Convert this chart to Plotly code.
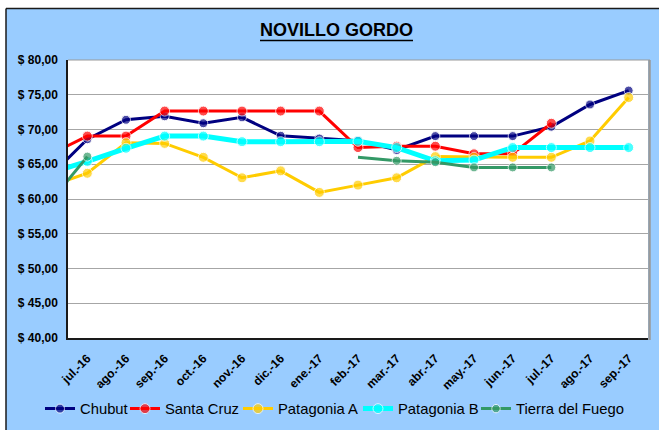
import plotly.graph_objects as go

# ---- data -------------------------------------------------------------
# first category (jun.-16) lies just outside the visible axis range; only
# the segment leading into jul.-16 is visible, as in the reference.
categories = ["jun.-16", "jul.-16", "ago.-16", "sep.-16", "oct.-16", "nov.-16", "dic.-16",
              "ene.-17", "feb.-17", "mar.-17", "abr.-17", "may.-17", "jun.-17",
              "jul.-17", "ago.-17", "sep.-17"]

chubut = [63.1, 68.6, 71.4, 71.9, 70.9, 71.75, 69.1, 68.7, 68.4, 67.05, 69.05, 69.05, 69.05, 70.4, 73.6, 75.6]
santa_cruz = [66.3, 69.05, 69.05, 72.65, 72.65, 72.65, 72.65, 72.65, 67.4, 67.6, 67.6, 66.5, 66.5, 70.9, None, None]
patagonia_a = [61.8, 63.7, 68.1, 68.0, 66.0, 63.05, 64.05, 60.95, 62.0, 63.05, 66.1, 66.0, 66.0, 66.0, 68.35, 74.6]
patagonia_b = [63.7, 65.4, 67.3, 69.05, 69.05, 68.25, 68.25, 68.25, 68.3, 67.4, 65.5, 65.6, 67.4, 67.4, 67.4, 67.4]
tierra_del_fuego = [59.3, 66.1, None, None, None, None, None, None, 66.0, 65.5, 65.3, 64.55, 64.55, 64.55, None, None]

y_ticks = [40, 45, 50, 55, 60, 65, 70, 75, 80]
y_ticktext = ["$ 40,00", "$ 45,00", "$ 50,00", "$ 55,00", "$ 60,00", "$ 65,00", "$ 70,00", "$ 75,00", "$ 80,00"]

# ---- styling ----------------------------------------------------------
W, H = 659, 430
L, R, T, B = 68, 648, 60, 338  # plot area in pixels
FONT = "Arial, Liberation Sans, sans-serif"

def px_x(p):
    return (p - L) / (R - L)

def px_y(p):
    return (B - p) / (B - T)

x_idx = list(range(-1, len(categories) - 1))

series = [
    ("Chubut", chubut, "#000080", 3, 9, 45),
    ("Santa Cruz", santa_cruz, "#FF0000", 3, 10, 130),
    ("Patagonia A", patagonia_a, "#FFCC00", 3, 10, 243),
    ("Patagonia B", patagonia_b, "#00FFFF", 5, 10, 363),
    ("Tierra del Fuego", tierra_del_fuego, "#339966", 3, 9, 481),
]

fig = go.Figure()
legend_layout = {}
for i, (name, vals, color, lw, ms, lx) in enumerate(series):
    sizes = [ms] * len(vals)
    if name == "Tierra del Fuego":
        sizes[categories.index("feb.-17")] = 0
    lname = "legend" if i == 0 else f"legend{i + 1}"
    fig.add_trace(go.Scatter(
        x=x_idx, y=vals, name=name, mode="lines+markers",
        line=dict(color=color, width=lw),
        marker=dict(color=color, size=sizes, symbol="circle"),
        connectgaps=False, legend=lname,
    ))
    legend_layout[lname] = dict(
        orientation="h", xref="container", yref="container",
        x=(lx - 5) / W, xanchor="left", y=(H - 409) / H, yanchor="middle",
        font=dict(size=14.8, family=FONT, color="black"), bgcolor="rgba(0,0,0,0)",
        borderwidth=0, itemwidth=30,
    )

shapes = [
    # white band on top and left, dark frame of the chart box
    dict(type="rect", xref="paper", yref="paper", x0=px_x(-5), x1=px_x(W + 5), y0=px_y(8), y1=px_y(-5),
         fillcolor="white", line=dict(width=0), layer="above"),
    dict(type="rect", xref="paper", yref="paper", x0=px_x(-5), x1=px_x(6), y0=px_y(H + 5), y1=px_y(-5),
         fillcolor="white", line=dict(width=0), layer="above"),
    dict(type="line", xref="paper", yref="paper", x0=px_x(6), x1=px_x(W + 5), y0=px_y(8.5), y1=px_y(8.5),
         line=dict(color="#1a1a1a", width=1.5), layer="above"),
    dict(type="line", xref="paper", yref="paper", x0=px_x(6), x1=px_x(6), y0=px_y(8.5), y1=px_y(H + 5),
         line=dict(color="#1a1a1a", width=1.5), layer="above"),
    # plot area top and right borders (gray)
    dict(type="line", xref="paper", yref="paper", x0=0, x1=px_x(650), y0=1, y1=1,
         line=dict(color="#9a9a9a", width=1.2), layer="above"),
    dict(type="line", xref="paper", yref="paper", x0=px_x(649.5), x1=px_x(649.5), y0=px_y(340), y1=1,
         line=dict(color="#9a9a9a", width=2.5), layer="above"),
    # title underline
    dict(type="line", xref="paper", yref="paper", x0=px_x(260), x1=px_x(413), y0=px_y(40.5), y1=px_y(40.5),
         line=dict(color="black", width=1.5), layer="above"),
]

fig.update_layout(
    width=W, height=H,
    margin=dict(l=L, r=W - R, t=T, b=H - B, pad=0, autoexpand=False),
    paper_bgcolor="#99CCFF",
    plot_bgcolor="white",
    font=dict(family=FONT, color="black"),
    showlegend=True,
    annotations=[dict(text="<b>NOVILLO GORDO</b>", xref="paper", yref="paper",
                      x=px_x(336.5), y=px_y(30), xanchor="center", yanchor="middle",
                      showarrow=False, font=dict(size=18, family=FONT, color="black"))],
    shapes=shapes,
    xaxis=dict(range=[-0.5, 14.5], tickmode="array", tickvals=list(range(0, 15)),
               ticktext=categories[1:], tickangle=-45, showgrid=False, zeroline=False,
               showline=True, linecolor="#1a1a1a", linewidth=1.5,
               ticks="outside", ticklen=7, tickcolor="rgba(0,0,0,0)",
               tickfont=dict(size=12, family=FONT, color="black", weight="bold"),
               automargin=False, fixedrange=True),
    yaxis=dict(range=[40, 80], tickmode="array", tickvals=y_ticks, ticktext=y_ticktext,
               showgrid=True, gridcolor="#a6a6a6", gridwidth=1, zeroline=False,
               showline=True, linecolor="#1a1a1a", linewidth=1.5,
               ticks="outside", ticklen=6, tickcolor="rgba(0,0,0,0)",
               tickfont=dict(size=12, family=FONT, color="black", weight="bold"),
               automargin=False, fixedrange=True),
    **legend_layout,
)

fig.write_html(
    "out.html",
    config={"displayModeBar": False},
    post_script="document.body.style.margin='0';document.body.style.overflow='hidden';",
)
